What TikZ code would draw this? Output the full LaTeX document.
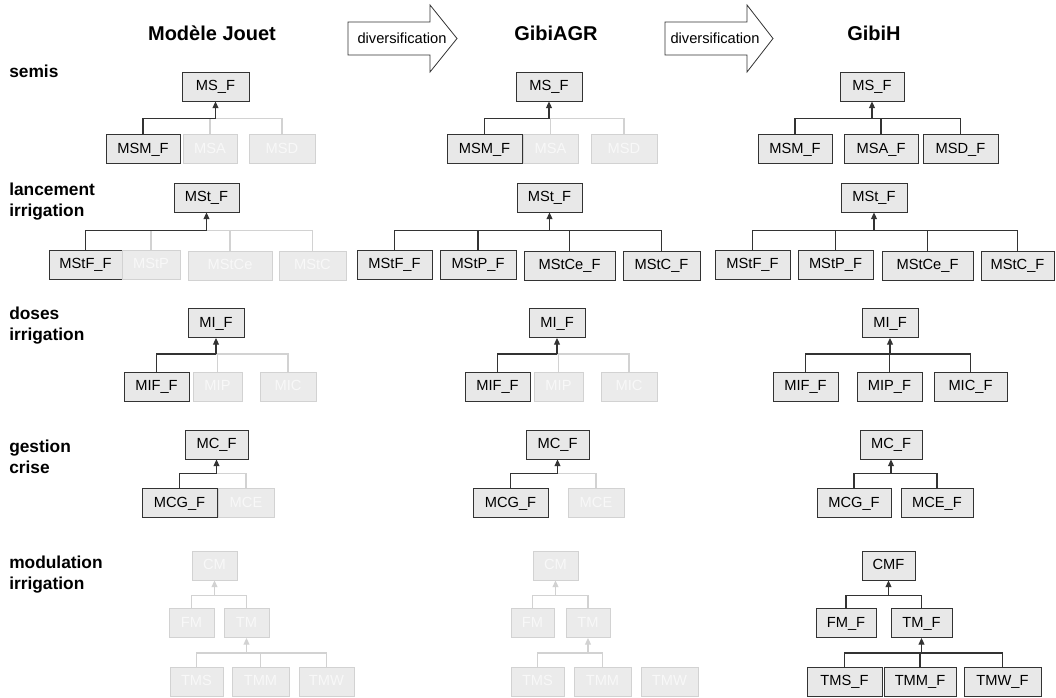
\documentclass[tikz,border=0pt]{standalone}
\usepackage{fontspec}
\setmainfont{Liberation Sans}
\usetikzlibrary{arrows.meta}
\definecolor{boxgray}{HTML}{E8E8E8}
\definecolor{offfill}{HTML}{EBEBEB}
\definecolor{offline}{HTML}{D2D2D2}
\definecolor{offtext}{HTML}{F8F8F8}

\begin{document}
\begin{tikzpicture}[x=0.75pt, y=-0.75pt,
  box/.style={draw=black!80, fill=boxgray, line width=0.75pt, minimum height=21.75pt,
    inner sep=0pt, text height=8pt, text depth=1.5pt, font=\fontsize{11}{13}\selectfont},
  off/.style={box, draw=offline, fill=offfill, text=offtext},
  bw/.style={minimum width=#1*0.75pt},
  link/.style={draw=black!80, line width=0.8pt},
  offlink/.style={draw=offline, line width=0.8pt},
  arr/.style={-{Triangle[width=4.5pt,length=5pt]}},
  title/.style={font=\bfseries\fontsize{15}{18}\selectfont, anchor=base},
  rowlab/.style={font=\bfseries\fontsize{13}{15.75}\selectfont, align=left, anchor=west, inner sep=0pt}]
  \useasboundingbox (0,0) rectangle (1056,697);

  % column titles and the two diversification arrows
  \node[title] (tJ) at (212,40) {Modèle Jouet};
  \node[title] (tA) at (556,40) {GibiAGR};
  \node[title] (tH) at (874,40) {GibiH};
  \draw[black!80, line width=0.6pt, fill=white] (348,22) -- (430,22) -- (430,5) -- (457,38.5)
    -- (430,72) -- (430,55) -- (348,55) -- cycle;
  \draw[black!80, line width=0.6pt, fill=white] (665,22) -- (747,22) -- (747,5) -- (773,38.5)
    -- (747,72) -- (747,55) -- (665,55) -- cycle;
  \node[anchor=base, font=\fontsize{11}{13}\selectfont] (div1) at (402,43) {diversification};
  \node[anchor=base, font=\fontsize{11}{13}\selectfont] (div2) at (715,43) {diversification};

  % row labels
  \node[rowlab] (rS) at (9,71) {semis};
  \node[rowlab] (rL) at (9,202) {lancement\\irrigation};
  \node[rowlab] (rD) at (9,326) {doses\\irrigation};
  \node[rowlab] (rG) at (9,457) {gestion\\crise};
  \node[rowlab] (rM) at (9,575) {modulation\\irrigation};

  % semis
  \node[box,bw=67] (MSa) at (215.5,86.5) {MS\_F};
  \node[box,bw=74] (MSMa) at (143,149) {MSM\_F};
  \node[off,bw=54] (MSAa) at (210,149) {MSA};
  \node[off,bw=66] (MSDa) at (282,149) {MSD};
  \node[box,bw=66] (MSb) at (549,86.5) {MS\_F};
  \node[box,bw=75] (MSMb) at (484.5,149) {MSM\_F};
  \node[off,bw=55] (MSAb) at (550.5,149) {MSA};
  \node[off,bw=66] (MSDb) at (624,149) {MSD};
  \node[box,bw=64] (MSc) at (872,86.5) {MS\_F};
  \node[box,bw=74] (MSMc) at (795,149) {MSM\_F};
  \node[box,bw=74] (MSAc) at (881,149) {MSA\_F};
  \node[box,bw=75] (MSDc) at (960.5,149) {MSD\_F};
  \path (MSa.south) ++(0,17) coordinate (kMSa);
  \path (MSb.south) ++(0,17) coordinate (kMSb);
  \path (MSc.south) ++(0,17) coordinate (kMSc);
  \foreach \c in {MSAa,MSDa} \draw[offlink] (\c.north) |- (kMSa);
  \foreach \c in {MSAb,MSDb} \draw[offlink] (\c.north) |- (kMSb);
  \draw[link] (MSMa.north) |- (kMSa);
  \draw[link] (MSMb.north) |- (kMSb);
  \foreach \c in {MSMc,MSAc,MSDc} \draw[link] (\c.north) |- (kMSc);
  \draw[link,arr] (kMSa) -- (MSa.south);
  \draw[link,arr] (kMSb) -- (MSb.south);
  \draw[link,arr] (kMSc) -- (MSc.south);

  % lancement irrigation
  \node[box,bw=65] (MSta) at (206.5,197.5) {MSt\_F};
  \node[box,bw=73] (MStFa) at (85.5,264.5) {MStF\_F};
  \node[off,bw=58] (MStPa) at (151,264.5) {MStP};
  \node[off,bw=84] (MStCea) at (230,265.5) {MStCe};
  \node[off,bw=67] (MStCa) at (312.5,265.5) {MStC};
  \node[box,bw=65] (MStb) at (549.5,197.5) {MSt\_F};
  \node[box,bw=75] (MStFb) at (394.5,264.5) {MStF\_F};
  \node[box,bw=76] (MStPb) at (478,264.5) {MStP\_F};
  \node[box,bw=91] (MStCeb) at (569.5,265.5) {MStCe\_F};
  \node[box,bw=77] (MStCb) at (661.5,265.5) {MStC\_F};
  \node[box,bw=66] (MStc) at (874,197.5) {MSt\_F};
  \node[box,bw=75] (MStFc) at (752.5,264.5) {MStF\_F};
  \node[box,bw=75] (MStPc) at (835.5,264.5) {MStP\_F};
  \node[box,bw=91] (MStCec) at (927.5,265.5) {MStCe\_F};
  \node[box,bw=73] (MStCc) at (1017.5,265.5) {MStC\_F};
  \path (MSta.south) ++(0,18) coordinate (kMSta);
  \path (MStb.south) ++(0,18) coordinate (kMStb);
  \path (MStc.south) ++(0,18) coordinate (kMStc);
  \foreach \c in {MStPa,MStCea,MStCa} \draw[offlink] (\c.north) |- (kMSta);
  \draw[link] (MStFa.north) |- (kMSta);
  \foreach \c in {MStFb,MStPb,MStCeb,MStCb} \draw[link] (\c.north) |- (kMStb);
  \foreach \c in {MStFc,MStPc,MStCec,MStCc} \draw[link] (\c.north) |- (kMStc);
  \draw[link,arr] (kMSta) -- (MSta.south);
  \draw[link,arr] (kMStb) -- (MStb.south);
  \draw[link,arr] (kMStc) -- (MStc.south);

  % doses irrigation
  \node[box,bw=56] (MIa) at (216,323) {MI\_F};
  \node[box,bw=65] (MIFa) at (156.5,386.5) {MIF\_F};
  \node[off,bw=49] (MIPa) at (217.5,386.5) {MIP};
  \node[off,bw=56] (MICa) at (288,386.5) {MIC};
  \node[box,bw=56] (MIb) at (557,323) {MI\_F};
  \node[box,bw=65] (MIFb) at (497.5,386.5) {MIF\_F};
  \node[off,bw=49] (MIPb) at (558.5,386.5) {MIP};
  \node[off,bw=56] (MICb) at (629,386.5) {MIC};
  \node[box,bw=56] (MIc) at (890,323) {MI\_F};
  \node[box,bw=65] (MIFc) at (805.5,386.5) {MIF\_F};
  \node[box,bw=65] (MIPc) at (889.5,386.5) {MIP\_F};
  \node[box,bw=73] (MICc) at (970.5,386.5) {MIC\_F};
  \path (MIa.south) ++(0,16) coordinate (kMIa);
  \path (MIb.south) ++(0,16) coordinate (kMIb);
  \path (MIc.south) ++(0,16) coordinate (kMIc);
  \foreach \c in {MIPa,MICa} \draw[offlink] (\c.north) |- (kMIa);
  \foreach \c in {MIPb,MICb} \draw[offlink] (\c.north) |- (kMIb);
  \draw[link] (MIFa.north) |- (kMIa);
  \draw[link] (MIFb.north) |- (kMIb);
  \foreach \c in {MIFc,MIPc,MICc} \draw[link] (\c.north) |- (kMIc);
  \draw[link,arr] (kMIa) -- (MIa.south);
  \draw[link,arr] (kMIb) -- (MIb.south);
  \draw[link,arr] (kMIc) -- (MIc.south);

  % gestion crise
  \node[box,bw=63] (MCa) at (216.5,444.5) {MC\_F};
  \node[box,bw=75] (MCGa) at (179.5,503) {MCG\_F};
  \node[off,bw=56] (MCEa) at (246,503) {MCE};
  \node[box,bw=63] (MCb) at (557.5,444.5) {MC\_F};
  \node[box,bw=75] (MCGb) at (510.5,503) {MCG\_F};
  \node[off,bw=56] (MCEb) at (596,503) {MCE};
  \node[box,bw=62] (MCc) at (891,444.5) {MC\_F};
  \node[box,bw=74] (MCGc) at (854,503) {MCG\_F};
  \node[box,bw=72] (MCEc) at (937,503) {MCE\_F};
  \path (MCa.south) ++(0,14) coordinate (kMCa);
  \path (MCb.south) ++(0,14) coordinate (kMCb);
  \path (MCc.south) ++(0,14) coordinate (kMCc);
  \draw[offlink] (MCEa.north) |- (kMCa);
  \draw[offlink] (MCEb.north) |- (kMCb);
  \draw[link] (MCGa.north) |- (kMCa);
  \draw[link] (MCGb.north) |- (kMCb);
  \foreach \c in {MCGc,MCEc} \draw[link] (\c.north) |- (kMCc);
  \draw[link,arr] (kMCa) -- (MCa.south);
  \draw[link,arr] (kMCb) -- (MCb.south);
  \draw[link,arr] (kMCc) -- (MCc.south);

  % modulation irrigation
  \node[off,bw=45] (CMa) at (214.5,565.5) {CM};
  \node[off,bw=45] (FMa) at (191.5,623) {FM};
  \node[off,bw=45] (TMa) at (246.5,623) {TM};
  \node[off,bw=53] (TMSa) at (196.5,681.5) {TMS};
  \node[off,bw=57] (TMMa) at (260.5,681.5) {TMM};
  \node[off,bw=55] (TMWa) at (326.5,681.5) {TMW};
  \node[off,bw=45] (CMb) at (555.5,565.5) {CM};
  \node[off,bw=43] (FMb) at (532.5,623) {FM};
  \node[off,bw=44] (TMb) at (588,623) {TM};
  \node[off,bw=53] (TMSb) at (537.5,681.5) {TMS};
  \node[off,bw=57] (TMMb) at (602.5,681.5) {TMM};
  \node[off,bw=57] (TMWb) at (669.5,681.5) {TMW};
  \node[box,bw=53] (CMc) at (888.5,565.5) {CMF};
  \node[box,bw=60] (FMc) at (846,623) {FM\_F};
  \node[box,bw=61] (TMc) at (921.5,623) {TM\_F};
  \node[box,bw=75] (TMSc) at (844.5,681.5) {TMS\_F};
  \node[box,bw=72] (TMMc) at (920,681.5) {TMM\_F};
  \node[box,bw=77] (TMWc) at (1002.5,681.5) {TMW\_F};
  \path (CMa.south) ++(0,15) coordinate (kCMa);
  \path (CMb.south) ++(0,15) coordinate (kCMb);
  \path (CMc.south) ++(0,15) coordinate (kCMc);
  \path (TMa.south) ++(0,15) coordinate (kTMa);
  \path (TMb.south) ++(0,15) coordinate (kTMb);
  \path (TMc.south) ++(0,15) coordinate (kTMc);
  \foreach \c in {FMa,TMa} \draw[offlink] (\c.north) |- (kCMa);
  \foreach \c in {TMSa,TMMa,TMWa} \draw[offlink] (\c.north) |- (kTMa);
  \foreach \c in {FMb,TMb} \draw[offlink] (\c.north) |- (kCMb);
  \foreach \c in {TMSb,TMMb} \draw[offlink] (\c.north) |- (kTMb);
  \draw[offlink,arr] (kCMa) -- (CMa.south);
  \draw[offlink,arr] (kTMa) -- (TMa.south);
  \draw[offlink,arr] (kCMb) -- (CMb.south);
  \draw[offlink,arr] (kTMb) -- (TMb.south);
  \foreach \c in {FMc,TMc} \draw[link] (\c.north) |- (kCMc);
  \foreach \c in {TMSc,TMMc,TMWc} \draw[link] (\c.north) |- (kTMc);
  \draw[link,arr] (kCMc) -- (CMc.south);
  \draw[link,arr] (kTMc) -- (TMc.south);
\end{tikzpicture}
\end{document}
